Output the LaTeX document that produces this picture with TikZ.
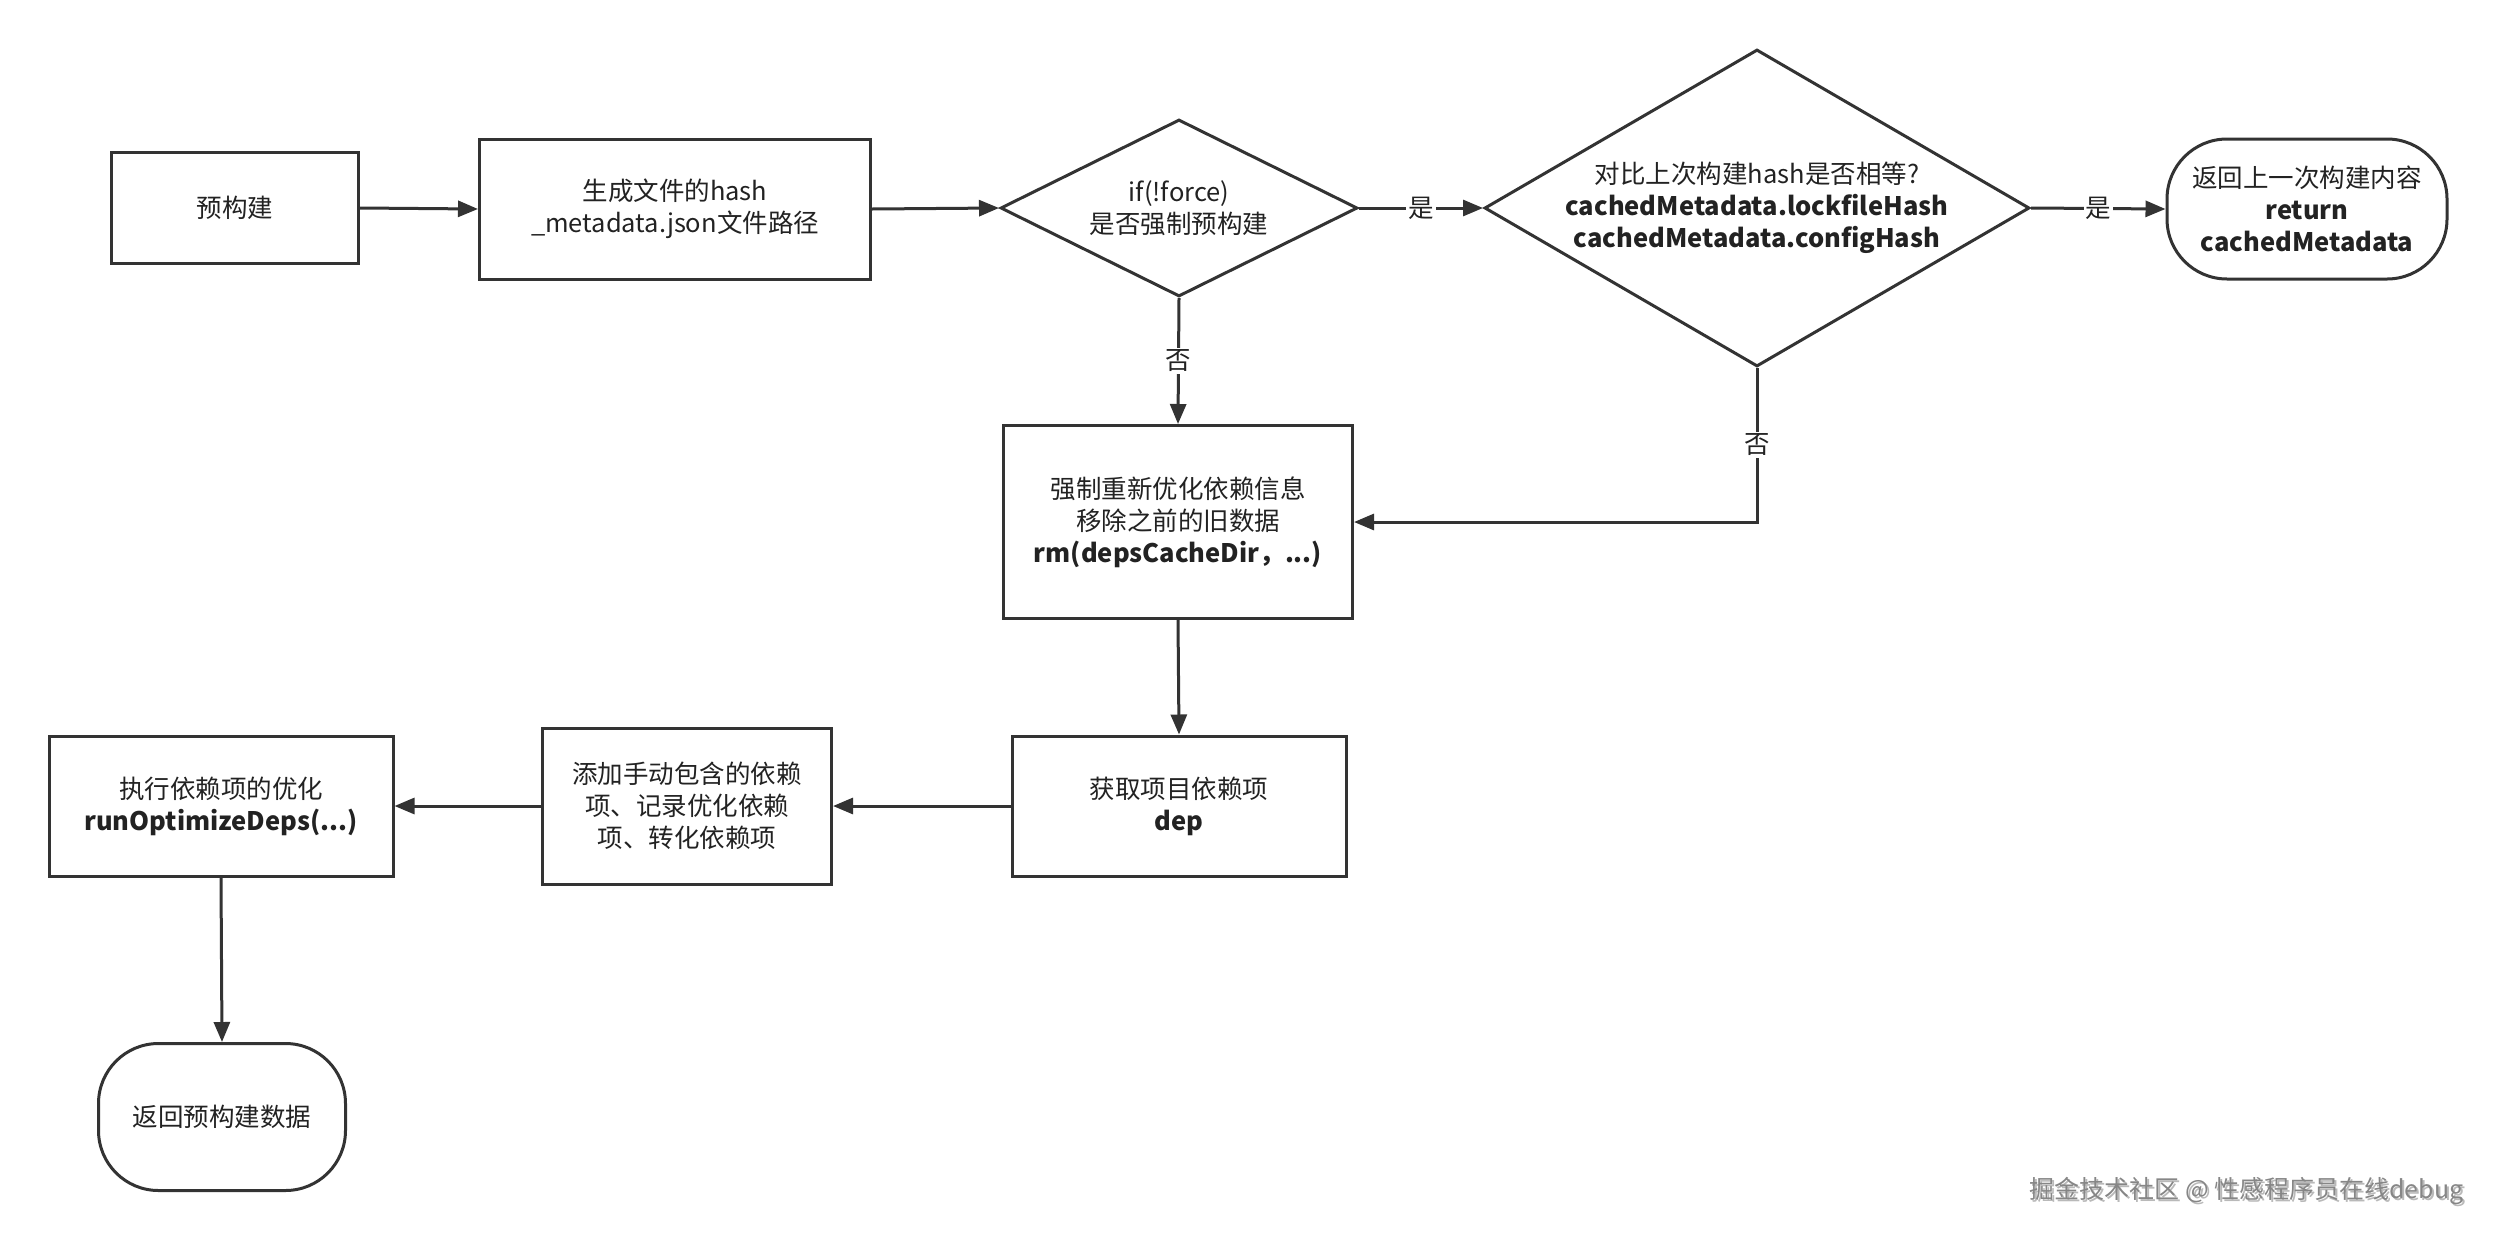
\documentclass[tikz,border=0pt]{standalone}
\usepackage{fontspec}
\setmainfont{Noto Sans CJK SC}
\usetikzlibrary{arrows.meta,shapes.geometric}
\definecolor{ln}{HTML}{333333}
\definecolor{tx}{HTML}{222222}
\begin{document}
\begin{tikzpicture}[x=1pt,y=-1pt,
  every node/.style={text=tx},
  txt/.style={font=\fontsize{25.5}{32}\selectfont, align=center},
  stepbox/.style={txt, draw=ln, line width=3pt, fill=white, inner sep=0pt, rectangle},
  termbox/.style={stepbox, rounded corners=60pt},
  decide/.style={draw=ln, line width=3pt, fill=white, diamond, inner sep=0pt},
  conn/.style={draw=ln, line width=3pt, -{Triangle[length=20pt,width=16pt]}},
  elab/.style={txt, fill=white, inner sep=2pt}
]
\useasboundingbox (0,0) rectangle (2498,1240);

\node[stepbox, minimum width=247pt, minimum height=111pt] (A) at (235,208) {预构建};
\node[stepbox, minimum width=391pt, minimum height=140pt] (B) at (675,209) {生成文件的hash\\\_metadata.json文件路径};
\node[decide, minimum width=357pt, minimum height=177pt] (C) at (1179,208) {};
\node[txt] (Ct) at (C.center) {if(!force)\\是否强制预构建};
\node[decide, minimum width=545pt, minimum height=317pt] (D) at (1757,208) {};
\node[txt] (Dt) at (D.center) {对比上次构建hash是否相等?\\\textbf{cachedMetadata.lockfileHash}\\\textbf{cachedMetadata.configHash}};
\node[termbox, minimum width=280pt, minimum height=140pt] (E) at (2307,209) {返回上一次构建内容\\\textbf{return}\\\textbf{cachedMetadata}};
\node[stepbox, minimum width=349pt, minimum height=193pt] (F) at (1178,522) {强制重新优化依赖信息\\移除之前的旧数据\\\textbf{rm(depsCacheDir，...)}};
\node[stepbox, minimum width=334pt, minimum height=140pt] (G) at (1179,806) {获取项目依赖项\\\textbf{dep}};
\node[stepbox, minimum width=289pt, minimum height=156pt] (H) at (687,806) {添加手动包含的依赖\\项、记录优化依赖\\项、转化依赖项};
\node[stepbox, minimum width=344pt, minimum height=140pt] (I) at (221,806) {执行依赖项的优化\\\textbf{runOptimizeDeps(...)}};
\node[termbox, minimum width=247pt, minimum height=147pt] (J) at (222,1117) {返回预构建数据};

\draw[conn] (A.east) -- (B.west);
\draw[conn] (B.east) -- (C.west);
\draw[conn] (C.east) -- node[elab] (L1) {是} (D.west);
\draw[conn] (D.east) -- node[elab] (L2) {是} (E.west);
\draw[conn] (C.south) -- node[elab] (L3) {否} (F.north);
\draw[conn] (D.south) |- node[elab, pos=0.25] (L4) {否} (F.east);
\draw[conn] (F.south) -- (G.north);
\draw[conn] (G.west) -- (H.east);
\draw[conn] (H.west) -- (I.east);
\draw[conn] (I.south) -- (J.north);

\node[font=\fontsize{25}{28}\selectfont, text=gray!55, anchor=east] (W) at (2469,1193) {掘金技术社区 @ 性感程序员在线debug};
\node[font=\fontsize{25}{28}\selectfont, text=gray!95, anchor=east] (W2) at (2467,1191) {掘金技术社区 @ 性感程序员在线debug};
\end{tikzpicture}
\end{document}
